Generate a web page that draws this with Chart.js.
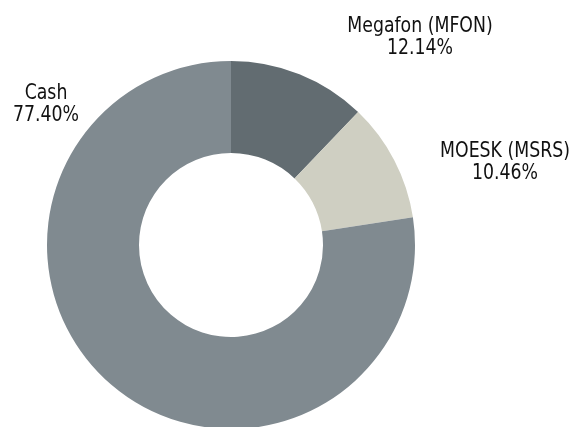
<!DOCTYPE html>
<html>
<head>
<meta charset="utf-8">
<script src="https://cdn.jsdelivr.net/npm/chart.js@4/dist/chart.umd.min.js"></script>
<style>
  html, body { margin: 0; padding: 0; background: #ffffff; overflow: hidden; width: 576px; height: 427px; }
  canvas { display: block; }
</style>
</head>
<body>
<canvas id="c" width="576" height="480" style="width:576px;height:480px"></canvas>
<script>
const categories = ["Megafon (MFON)", "MOESK (MSRS)", "Cash"];
const shares = [12.14, 10.46, 77.40];
const sliceColors = ["#626c71", "#cfcfc2", "#808a90"];

// label anchor positions (centre x, first baseline y) on the canvas
const labelAnchors = [
  { x: 420, y: 32 },
  { x: 505, y: 157 },
  { x: 46, y: 99 }
];

const labelPlugin = {
  id: 'sliceLabels',
  afterDraw(chart) {
    const ctx = chart.ctx;
    chart.data.labels.forEach((lab, i) => {
      const a = labelAnchors[i];
      const v = chart.data.datasets[0].data[i];
      ctx.save();
      ctx.translate(a.x, a.y);
      ctx.scale(0.875, 1);
      ctx.fillStyle = '#111111';
      ctx.textAlign = 'center';
      ctx.textBaseline = 'alphabetic';
      ctx.font = '22px "DejaVu Sans Condensed", "DejaVu Sans", sans-serif';
      ctx.fillText(lab, 0, 0);
      ctx.fillText(v.toFixed(2) + '%', 0, 22);
      ctx.restore();
    });
  }
};

new Chart(document.getElementById('c'), {
  type: 'doughnut',
  data: {
    labels: categories,
    datasets: [{
      data: shares,
      backgroundColor: sliceColors,
      borderWidth: 0,
      hoverOffset: 0
    }]
  },
  options: {
    responsive: false,
    animation: false,
    devicePixelRatio: 1,
    cutout: '50%',
    layout: { padding: { left: 47, right: 161, top: 61, bottom: 51 } },
    plugins: { legend: { display: false }, tooltip: { enabled: false } }
  },
  plugins: [labelPlugin]
});
</script>
</body>
</html>
